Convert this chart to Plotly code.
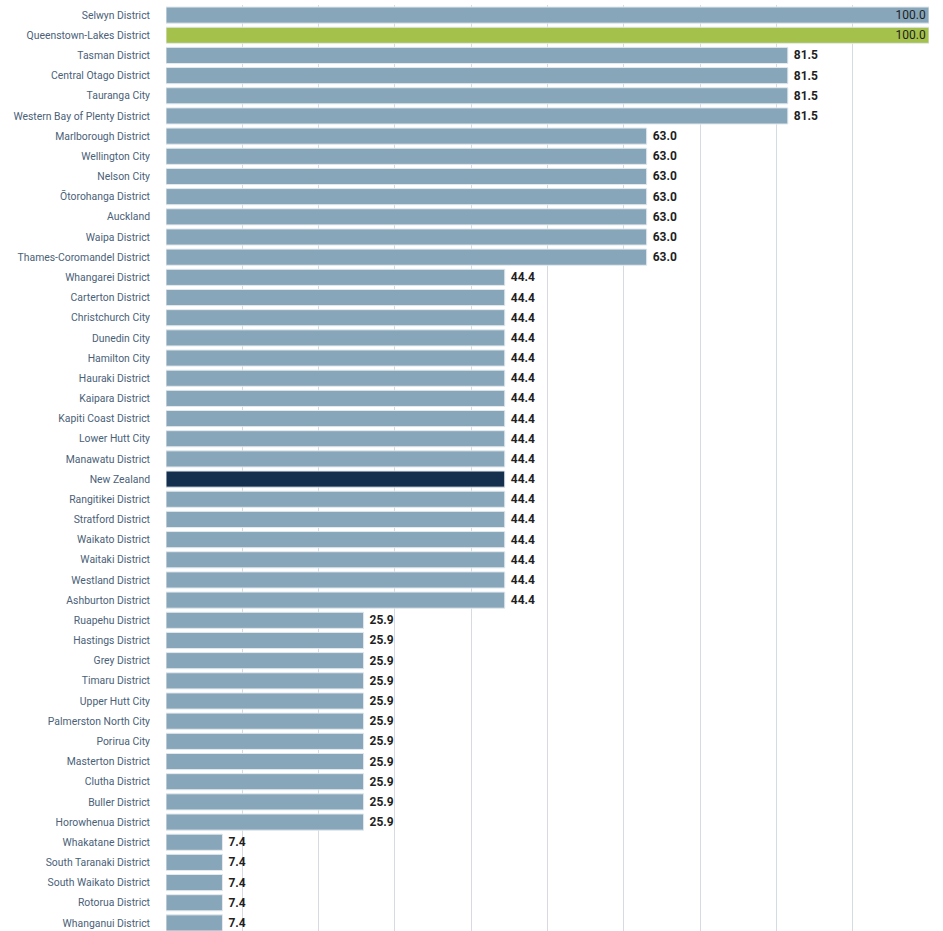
import plotly.graph_objects as go

categories = [
    "Selwyn District", "Queenstown-Lakes District", "Tasman District", "Central Otago District",
    "Tauranga City", "Western Bay of Plenty District", "Marlborough District", "Wellington City",
    "Nelson City", "Ōtorohanga District", "Auckland", "Waipa District", "Thames-Coromandel District",
    "Whangarei District", "Carterton District", "Christchurch City", "Dunedin City", "Hamilton City",
    "Hauraki District", "Kaipara District", "Kapiti Coast District", "Lower Hutt City",
    "Manawatu District", "New Zealand", "Rangitikei District", "Stratford District",
    "Waikato District", "Waitaki District", "Westland District", "Ashburton District",
    "Ruapehu District", "Hastings District", "Grey District", "Timaru District", "Upper Hutt City",
    "Palmerston North City", "Porirua City", "Masterton District", "Clutha District",
    "Buller District", "Horowhenua District", "Whakatane District", "South Taranaki District",
    "South Waikato District", "Rotorua District", "Whanganui District",
]
values = [
    100.0, 100.0, 81.5, 81.5, 81.5, 81.5,
    63.0, 63.0, 63.0, 63.0, 63.0, 63.0, 63.0,
    44.4, 44.4, 44.4, 44.4, 44.4, 44.4, 44.4, 44.4, 44.4, 44.4, 44.4, 44.4, 44.4, 44.4, 44.4, 44.4, 44.4,
    25.9, 25.9, 25.9, 25.9, 25.9, 25.9, 25.9, 25.9, 25.9, 25.9, 25.9,
    7.4, 7.4, 7.4, 7.4, 7.4,
]
highlight_green = "Queenstown-Lakes District"
highlight_navy = "New Zealand"

colors = []
for c in categories:
    if c == highlight_green:
        colors.append("#a4c14c")
    elif c == highlight_navy:
        colors.append("#15304f")
    else:
        colors.append("#87a6ba")

positions = ["inside" if v >= 100 else "outside" for v in values]
texts = [f" <b>{v:.1f}</b>" if v < 100 else f"{v:.1f}" for v in values]

fig = go.Figure(go.Bar(
    x=values,
    y=categories,
    orientation="h",
    marker=dict(color=colors, line=dict(color="#e3e9ed", width=1)),
    text=texts,
    textposition=positions,
    insidetextanchor="end",
    constraintext="none",
    textfont=dict(family="Roboto, Arial, sans-serif", size=12, color="#1f1f1f"),
    insidetextfont=dict(family="Roboto, Arial, sans-serif", size=12, color="#1f1f1f"),
    outsidetextfont=dict(family="Roboto, Arial, sans-serif", size=12, color="#1f1f1f"),
    cliponaxis=False,
    hoverinfo="skip",
))

fig.update_layout(
    width=943,
    height=931,
    margin=dict(l=166, r=14, t=5, b=0),
    paper_bgcolor="white",
    plot_bgcolor="white",
    bargap=0.2,
    showlegend=False,
    font=dict(family="Roboto, Arial, sans-serif"),
)
fig.update_xaxes(
    range=[0, 100],
    showgrid=True,
    gridcolor="#d5dbe0",
    gridwidth=1,
    dtick=10,
    showticklabels=False,
    zeroline=False,
    showline=False,
    ticks="",
)
fig.update_yaxes(
    categoryorder="array",
    categoryarray=categories,
    range=[45.4, -0.5],
    tickfont=dict(family="Roboto, Arial, sans-serif", size=10.4, color="#4a6178"),
    ticks="",
    ticklabelstandoff=15,
    showgrid=False,
    showline=False,
)

fig.write_html("out.html")
